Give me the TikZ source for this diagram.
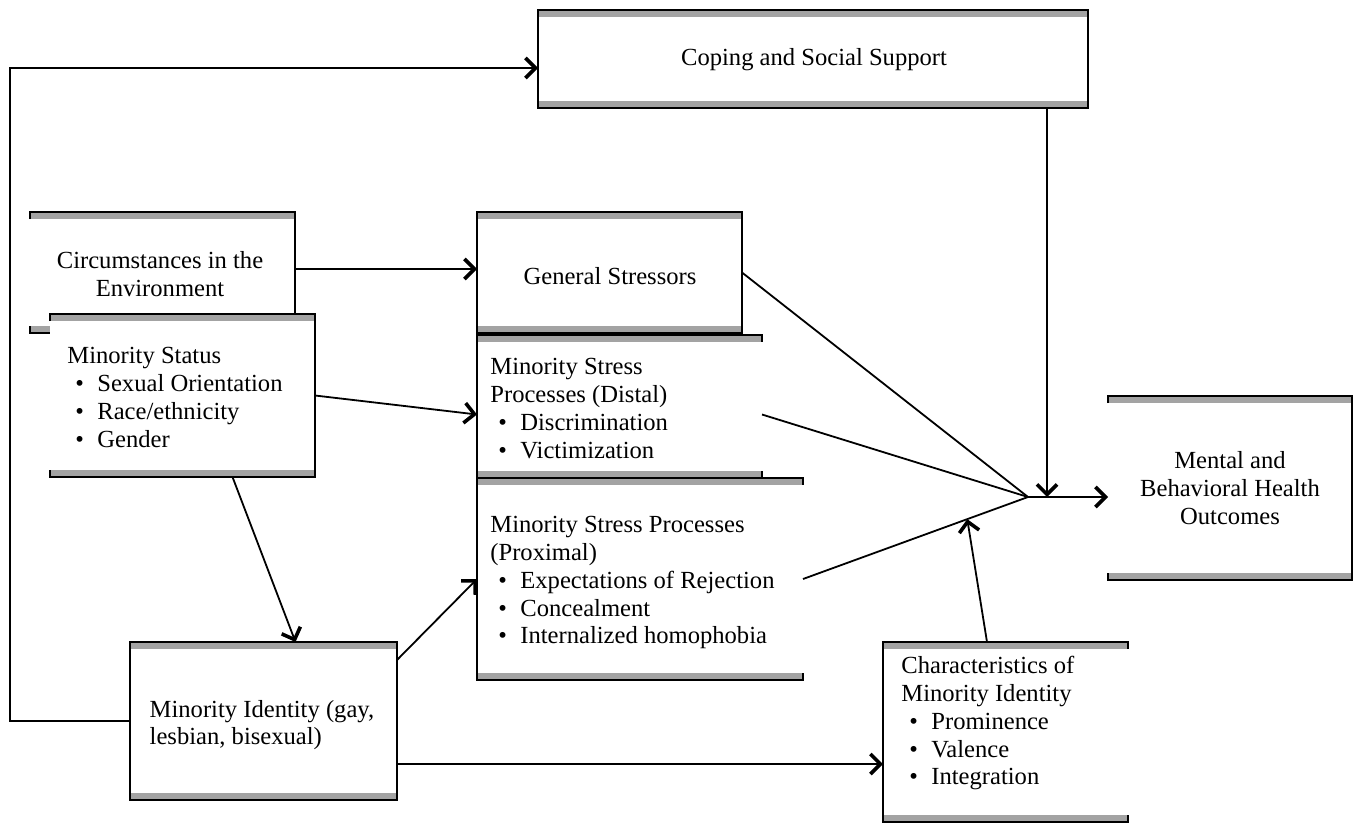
\documentclass[tikz,border=0pt]{standalone}
\usepackage{fontspec}
\setmainfont{Liberation Serif}
\usepackage{xcolor}
\usetikzlibrary{arrows.meta,calc}

\definecolor{bargray}{RGB}{163,163,163}

\tikzset{
  panel/.style={rectangle, fill=white, inner sep=0pt, outer sep=0pt},
  txt/.style={inner sep=0pt, align=left, font=\fontsize{12.3}{13.9}\selectfont},
  link/.style={line width=0.9pt},
  conn/.style={link, -{Straight Barb[length=5pt,width=10pt,line width=1.8pt]}}
}

% gray bars at top and bottom, sides listed in #2
\newcommand{\panelframe}[2]{%
  \fill[bargray] (#1.north west) rectangle ($(#1.north east)+(0,7)$);
  \draw[link] ($(#1.north west)+(0,7)$) -- (#1.north west) -- (#1.north east) -- ($(#1.north east)+(0,7)$);
  \fill[bargray] (#1.south west) rectangle ($(#1.south east)+(0,-7)$);
  \draw[link] ($(#1.south west)+(0,-7)$) -- (#1.south west) -- (#1.south east) -- ($(#1.south east)+(0,-7)$);
  \foreach \s in {#2} {\draw[link] (#1.north \s) -- (#1.south \s);}
}
\newcommand{\bitem}[1]{\hspace*{4pt}\makebox[11pt][l]{\textbullet}#1}

\begin{document}
\begin{tikzpicture}[x=0.5pt,y=-0.5pt]
\useasboundingbox (0,0) rectangle (1360,825);

%Boxes
\node[panel, minimum width=275pt, minimum height=49pt] (cope) at (813,59) {};
\panelframe{cope}{west,east}
\node[panel, minimum width=132.5pt, minimum height=60.5pt] (circ) at (162.5,272.5) {};
\panelframe{circ}{east}
\node[panel, minimum width=132.5pt, minimum height=81.5pt] (status) at (182.5,395.5) {};
\panelframe{status}{east}
\node[panel, minimum width=132.5pt, minimum height=60.5pt] (general) at (609.5,272.5) {};
\panelframe{general}{west,east}
\node[panel, minimum width=142.5pt, minimum height=71.5pt] (distal) at (619.5,406.5) {};
\panelframe{distal}{west}
\node[panel, minimum width=163pt, minimum height=101pt] (proximal) at (640,579) {};
\panelframe{proximal}{west}
\node[panel, minimum width=133.5pt, minimum height=79pt] (identity) at (263.5,721) {};
\panelframe{identity}{west,east}
\node[panel, minimum width=122.5pt, minimum height=90pt] (charac) at (1005.5,732) {};
\panelframe{charac}{west}
\node[panel, minimum width=122pt, minimum height=92pt] (outcome) at (1230,488) {};
\panelframe{outcome}{east}

% Text Node
\node[txt] (copetxt) at (814,60) {Coping and Social Support};
\node[txt, align=center] (circtxt) at (160,274) {Circumstances in the\\Environment};
\node[txt, anchor=north west] (statustxt) at (67,347) {Minority Status\\\bitem{Sexual Orientation}\\\bitem{Race/ethnicity}\\\bitem{Gender}};
\node[txt] (generaltxt) at (610,276) {General Stressors};
\node[txt, anchor=north west] (distaltxt) at (490,358) {Minority Stress\\Processes (Distal)\\\bitem{Discrimination}\\\bitem{Victimization}};
\node[txt, anchor=north west] (proximaltxt) at (490,516) {Minority Stress Processes\\(Proximal)\\\bitem{Expectations of Rejection}\\\bitem{Concealment}\\\bitem{Internalized homophobia}};
\node[txt] (identitytxt) at (262,725) {Minority Identity (gay,\\lesbian, bisexual)};
\node[txt, anchor=north west] (charactxt) at (901,656) {Characteristics of\\Minority Identity\\\bitem{Prominence}\\\bitem{Valence}\\\bitem{Integration}};
\node[txt, align=center] (outcometxt) at (1230,488) {Mental and\\Behavioral Health\\Outcomes};

%Connectors
\coordinate (fbtop) at (10,68);
\coordinate (join) at (1028,497);
\coordinate (idlow) at ($(identity.east)+(0,43)$);
\coordinate (copedrop) at ($(cope.south east)+(-41,0)$);
\draw[conn] (identity.west) -| (fbtop) -- (fbtop -| cope.west);
\draw[conn] (circ.east |- 0,269) -- (general.west |- 0,269);
\draw[conn] (status.east) -- ($(distal.west)+(0,8)$);
\draw[conn] ($(status.south)+(50,0)$) -- ($(identity.north)+(32,0)$);
\draw[conn] ($(identity.north east)+(0,18)$) -- (proximal.west);
\draw[conn] (idlow) -- (idlow -| charac.west);
\draw[link] (general.east) -- (join);
\draw[link] ($(distal.east)+(0,8)$) -- (join);
\draw[link] (proximal.east) -- (join);
\draw[conn] ($(charac.north)+(-18.5,0)$) -- ($(proximal.east)!0.73!(join)$);
\draw[conn] (copedrop) -- (copedrop |- join);
\draw[conn] (join) -- (join -| outcome.west);

\end{tikzpicture}
\end{document}
